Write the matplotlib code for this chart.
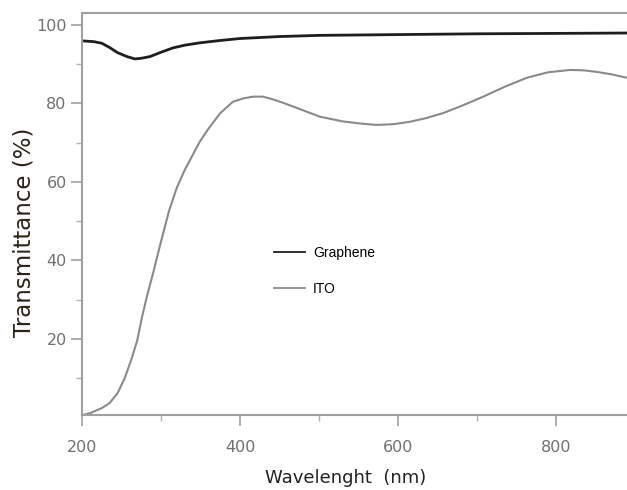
import matplotlib
matplotlib.use("Agg")
import matplotlib.pyplot as plt
from matplotlib.ticker import MultipleLocator

# graphene film transmittance
gr_wl = [200, 215, 225, 235, 245, 257, 267, 276, 286, 300, 315, 330, 349, 375, 400, 450, 500, 600, 700, 800, 890]
gr_t = [95.9, 95.7, 95.3, 94.2, 92.9, 91.9, 91.3, 91.5, 91.9, 93.0, 94.1, 94.8, 95.4, 96.0, 96.5, 97.0, 97.3,
        97.5, 97.7, 97.8, 97.9]

# ITO film transmittance
ito_wl = [200, 210, 225, 235, 245, 254, 262, 270, 276, 282, 290, 299, 310, 320, 330, 340, 349, 360, 375, 391,
          405, 417, 429, 442, 455, 475, 501, 530, 555, 573, 595, 615, 635, 657, 680, 708, 735, 763, 790, 818,
          835, 852, 870, 890]
ito_t = [0.6, 1.1, 2.4, 3.7, 6.2, 10.0, 14.5, 19.7, 25.6, 30.7, 36.8, 44.0, 52.5, 58.5, 63.0, 66.8, 70.2, 73.5,
         77.5, 80.4, 81.3, 81.7, 81.7, 81.0, 80.1, 78.6, 76.6, 75.4, 74.8, 74.5, 74.7, 75.3, 76.2, 77.5, 79.3,
         81.7, 84.2, 86.5, 87.9, 88.5, 88.4, 88.0, 87.4, 86.5]

fig = plt.figure(figsize=(6.27, 4.9), dpi=100)
ax = fig.add_axes([0.1308, 0.153, 0.8692, 0.8205])

ax.plot(gr_wl, gr_t, color="#1e1e1e", lw=2.0, label="Graphene")
ax.plot(ito_wl, ito_t, color="#8a8a8a", lw=1.5, label="ITO")

ax.set_xlim(200, 890)
ax.set_ylim(0.64, 103)
ax.xaxis.set_major_locator(MultipleLocator(200))
ax.xaxis.set_minor_locator(MultipleLocator(100))
ax.yaxis.set_minor_locator(MultipleLocator(10))
ax.set_yticks([20, 40, 60, 80, 100])

ax.spines["right"].set_visible(False)
for side in ("left", "bottom", "top"):
    ax.spines[side].set_color("#a0a0a0")
    ax.spines[side].set_linewidth(1.5)

ax.tick_params(which="major", length=8, width=1.2, color="#a0a0a0", labelcolor="#707070",
               labelsize=11.5, pad=3)
ax.tick_params(which="minor", length=4, width=1.0, color="#b0b0b0")
ax.tick_params(axis="x", which="major", pad=10)

ax.set_xlabel("Wavelenght  (nm)", fontsize=13, color="#222222")
ax.set_ylabel("Transmittance (%)", fontsize=16.5, color="#2a2418")
ax.xaxis.set_label_coords(0.483, -0.135)
ax.yaxis.set_label_coords(-0.085, 0.455)

leg = ax.legend(loc="upper left", bbox_to_anchor=(0.33, 0.452), frameon=False,
                prop={"family": "Liberation Sans", "size": 10},
                handlelength=2.2, labelspacing=1.6, handletextpad=0.6)
for h in leg.get_lines():
    h.set_linewidth(1.3)

fig.savefig("out.png", dpi=100)
